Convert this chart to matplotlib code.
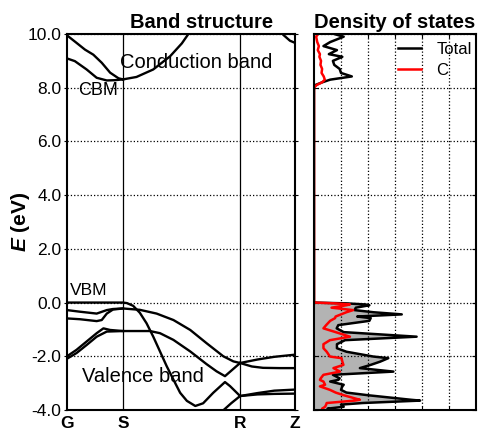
import numpy as np
import matplotlib
matplotlib.use("Agg")
import matplotlib.pyplot as plt

plt.rcParams['font.family'] = ['Liberation Sans', 'DejaVu Sans']
plt.rcParams['axes.unicode_minus'] = False
plt.rcParams['mathtext.fontset'] = 'custom'
plt.rcParams['mathtext.it'] = 'Liberation Sans:italic:bold'

# high-symmetry points along the k-path
kpt_labels = ['G', 'S', 'R', 'Z']
kpt_pos = [0.0, 1.0, 3.09, 4.07]

# band lines: (k, E) lists
cb_a_k = [0.0, 0.17, 0.32, 0.47, 0.62, 0.77, 0.92, 1.0]
cb_a_e = [9.95, 9.67, 9.42, 9.23, 8.93, 8.56, 8.35, 8.31]
cb_b_k = [0.0, 0.14, 0.35, 0.53, 0.71, 0.85, 1.0]
cb_b_e = [9.09, 8.99, 8.68, 8.37, 8.27, 8.28, 8.31]
cb_c_k = [1.0, 1.24, 1.54, 1.84, 2.05, 2.2]
cb_c_e = [8.31, 8.40, 8.68, 9.17, 9.65, 10.1]
cb_d_k = [3.8, 3.86, 3.98, 4.07]
cb_d_e = [10.2, 9.97, 9.75, 9.67]

vb1_k = [0.0, 1.0, 1.07, 1.18, 1.30, 1.42, 1.54, 1.66, 1.78, 1.90, 2.02, 2.14, 2.29, 2.43, 2.61, 2.82, 2.91, 3.09]
vb1_e = [0.0, 0.0, -0.02, -0.12, -0.38, -0.77, -1.27, -1.82, -2.37, -2.87, -3.36, -3.66, -3.85, -3.75, -3.36, -2.96, -3.11, -3.48]
vb2_k = [0.0, 0.23, 0.53, 0.71, 0.82, 1.0, 1.30, 1.60, 1.90, 2.20, 2.49, 2.79, 2.97, 3.09]
vb2_e = [-0.28, -0.34, -0.41, -0.28, -0.24, -0.22, -0.27, -0.41, -0.65, -1.02, -1.51, -2.0, -2.19, -2.25]
vb3_k = [0.0, 0.23, 0.53, 0.62, 0.71, 0.82, 1.0]
vb3_e = [-0.59, -0.62, -0.69, -0.65, -0.41, -0.26, -0.22]
vb4_k = [0.0, 0.17, 0.35, 0.53, 0.65, 0.77, 1.0, 1.48, 1.66, 1.90, 2.20, 2.49, 2.67, 2.82, 3.09]
vb4_e = [-2.0, -1.76, -1.45, -1.14, -0.96, -1.02, -1.06, -1.06, -1.14, -1.39, -1.82, -2.29, -2.56, -2.74, -2.25]
vb5_k = [0.0, 0.17, 0.35, 0.53, 0.71, 1.0]
vb5_e = [-2.09, -1.88, -1.58, -1.27, -1.08, -1.06]
vb6_k = [2.77, 2.93, 3.09]
vb6_e = [-4.05, -3.75, -3.48]
rz1_k = [3.09, 3.4, 3.7, 4.07]
rz1_e = [-2.25, -2.12, -2.02, -1.94]
rz2_k = [3.09, 3.3, 3.5, 3.8, 4.07]
rz2_e = [-2.25, -2.38, -2.43, -2.44, -2.44]
rz3_k = [3.09, 3.4, 3.7, 4.07]
rz3_e = [-3.48, -3.37, -3.28, -3.24]
rz4_k = [3.09, 3.4, 3.7, 4.07]
rz4_e = [-3.48, -3.42, -3.40, -3.39]

bands = [(cb_a_k, cb_a_e), (cb_b_k, cb_b_e), (cb_c_k, cb_c_e), (cb_d_k, cb_d_e),
         (vb1_k, vb1_e), (vb2_k, vb2_e), (vb3_k, vb3_e), (vb4_k, vb4_e),
         (vb5_k, vb5_e), (vb6_k, vb6_e), (rz1_k, rz1_e), (rz2_k, rz2_e),
         (rz3_k, rz3_e), (rz4_k, rz4_e)]

# density of states (energy, total, carbon)
dos_e = [10.0, 9.9, 9.7, 9.55, 9.4, 9.25, 9.15, 9.0, 8.85, 8.7, 8.55, 8.42, 8.3, 8.2, 8.1, 8.0,
         0.05, 0.0, -0.03, -0.07, -0.1, -0.19, -0.28, -0.36, -0.44, -0.52, -0.58, -0.68, -0.84, -0.96,
         -1.1, -1.27, -1.4, -1.55, -1.7, -1.83, -2.01, -2.07, -2.2, -2.32, -2.44, -2.57, -2.69,
         -2.82, -2.88, -2.94, -3.06, -3.12, -3.25, -3.35, -3.45, -3.62, -3.65, -3.74, -3.8, -3.88, -3.95, -4.0]
dos_total = [0.75, 1.1, 0.6, 0.35, 0.85, 0.55, 1.05, 0.7, 0.75, 0.95, 1.0, 1.4, 0.6, 0.3, 0.05, 0.0,
             0.0, 0.0, 1.2, 1.9, 2.05, 1.55, 1.5, 2.2, 3.25, 1.6, 2.1, 2.05, 0.9, 0.84,
             1.1, 3.8, 1.15, 0.85, 0.85, 1.2, 2.2, 2.75, 2.45, 2.1, 1.7, 2.94, 0.7,
             0.95, 0.9, 0.6, 1.1, 1.05, 1.0, 1.2, 2.0, 3.6, 3.93, 1.8, 1.0, 1.1, 0.5, 0.7]
dos_c = [0.15, 0.08, 0.12, 0.18, 0.14, 0.22, 0.2, 0.26, 0.24, 0.3, 0.28, 0.36, 0.4, 0.3, 0.1, 0.0,
         0.0, 0.0, 0.8, 1.33, 1.2, 0.65, 1.45, 1.2, 1.0, 0.8, 0.78, 0.6, 0.45, 0.35,
         0.8, 1.33, 0.59, 0.35, 0.35, 0.47, 0.59, 1.02, 1.05, 1.09, 0.72, 0.96, 0.35,
         0.25, 0.22, 0.35, 0.41, 0.22, 0.59, 0.8, 1.1, 1.7, 1.5, 0.47, 0.45, 0.41, 0.3, 0.35]

yticks = [10.0, 8.0, 6.0, 4.0, 2.0, 0.0, -2.0, -4.0]

fig = plt.figure(figsize=(4.83, 4.33), dpi=100)
ax1 = fig.add_axes([67/483, 23/433, 228/483, 376/433])
ax2 = fig.add_axes([314/483, 23/433, 162/483, 376/433])

for k, e in bands:
    ax1.plot(k, e, color='k', lw=1.7, solid_joinstyle='round')
for p in kpt_pos[1:-1]:
    ax1.axvline(p, color='k', lw=0.9)
ax1.set_xlim(kpt_pos[0], kpt_pos[-1])
ax1.set_ylim(-4, 10)
ax1.set_xticks(kpt_pos)
ax1.set_xticklabels(kpt_labels, fontweight='bold', fontsize=12.5)
ax1.set_yticks(yticks)
ax1.set_yticklabels(['%.1f' % v for v in yticks], fontsize=12.5)
ax1.tick_params(axis='x', length=0, pad=4)
ax1.tick_params(axis='y', direction='out', length=2, pad=2, right=True)
ax1.grid(axis='y', linestyle=':', color='k', lw=0.9)
ax1.set_ylabel(r'$E$ (eV)', fontweight='bold', fontsize=15)
ax1.yaxis.set_label_coords(-0.155, 0.5)
ax1.set_title('Band structure', fontweight='bold', fontsize=14.5, pad=4, x=0.59)
ax1.text(0.95, 8.93, 'Conduction band', fontsize=14.5, va='center')
ax1.text(0.2, 7.9, 'CBM', fontsize=13, va='center')
ax1.text(0.05, 0.45, 'VBM', fontsize=12.5, va='center')
ax1.text(0.27, -2.74, 'Valence band', fontsize=14.5, va='center')
for s in ax1.spines.values():
    s.set_linewidth(1.5)

dos_e = np.array(dos_e)
dos_total = np.array(dos_total)
ax2.fill_betweenx(dos_e, 0, dos_total, where=dos_e <= 0.0, color='0.7', lw=0)
ax2.plot(dos_total, dos_e, color='k', lw=1.8, label='Total')
ax2.plot(dos_c, dos_e, color='r', lw=1.8, label='C')
ax2.set_xlim(0, 6)
ax2.set_ylim(-4, 10)
ax2.set_xticks([1, 2, 3, 4, 5])
ax2.set_yticks(yticks)
ax2.set_xticklabels([])
ax2.set_yticklabels([])
ax2.tick_params(direction='in', length=3, right=True, top=True)
ax2.grid(linestyle=':', color='k', lw=0.9)
ax2.set_title('Density of states', fontweight='bold', fontsize=14.5, pad=4)
leg = ax2.legend(loc='upper right', frameon=False, fontsize=12, handlelength=1.4,
                 borderaxespad=0.0, borderpad=0.25, labelspacing=0.35, handletextpad=0.9,
                 bbox_to_anchor=(1.0, 0.99))
for s in ax2.spines.values():
    s.set_linewidth(1.5)

fig.savefig('out.png', dpi=100)
